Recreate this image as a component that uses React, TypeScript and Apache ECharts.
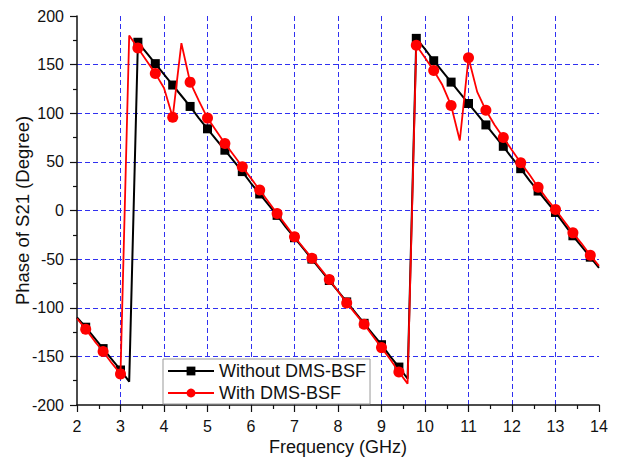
import React, { useEffect, useRef } from "react";
import * as echarts from "echarts";

const freqs = [
  2.0, 2.2, 2.4, 2.6, 2.8, 3.0, 3.2, 3.4, 3.6, 3.8, 4.0, 4.2, 4.4, 4.6, 4.8, 5.0,
  5.2, 5.4, 5.6, 5.8, 6.0, 6.2, 6.4, 6.6, 6.8, 7.0, 7.2, 7.4, 7.6, 7.8, 8.0, 8.2,
  8.4, 8.6, 8.8, 9.0, 9.2, 9.4, 9.6, 9.8, 10.0, 10.2, 10.4, 10.6, 10.8, 11.0, 11.2,
  11.4, 11.6, 11.8, 12.0, 12.2, 12.4, 12.6, 12.8, 13.0, 13.2, 13.4, 13.6, 13.8, 14.0,
];

const withoutBSF = [
  -110, -120, -131, -142, -153, -164, -176, 173, 162, 151, 140, 129, 118, 107, 95, 84,
  73, 62, 51, 40, 28, 17, 6, -5, -17, -28, -39, -50, -61, -72, -83, -94,
  -105, -116, -127, -138, -150, -161, -173, 177, 166, 154, 143, 132, 121, 110, 99,
  88, 77, 66, 54, 43, 31, 20, 9, -2, -14, -26, -37, -48, -59,
];

const withBSF = [
  -111, -122, -134, -145, -157, -168, 180, 167, 154, 141, 126, 96, 172, 132, 113, 95,
  82, 69, 57, 45, 33, 21, 9, -3, -15, -27, -38, -49, -60, -71, -83, -95,
  -106, -117, -129, -141, -153, -166, -178, 170, 157, 144, 129, 108, 72, 157, 122,
  103, 88, 75, 62, 49, 37, 24, 12, 1, -11, -23, -34, -46, -57,
];

const seriesNames = ["Without DMS-BSF", "With DMS-BSF"];
const xTitle = "Frequency (GHz)";
const yTitle = "Phase of S21 (Degree)";

const FONT = "'Liberation Sans', Arial, sans-serif";

function buildData(ys: number[]) {
  return freqs.map((x, i) =>
    i % 2 === 1 ? { value: [x, ys[i]] } : { value: [x, ys[i]], symbol: "none" }
  );
}

export default function App() {
  const ref = useRef<HTMLDivElement>(null);
  useEffect(() => {
    if (!ref.current) return;
    const chart = echarts.init(ref.current, null, { renderer: "svg" });
    const gridDash = { color: "#3030f0", type: [5, 3] as any, width: 1 };
    chart.setOption({
      animation: false,
      backgroundColor: "#ffffff",
      grid: {
        left: 77,
        right: 22,
        top: 16,
        bottom: 53,
        containLabel: false,
        outerBoundsMode: "none",
      },
      legend: {
        orient: "vertical",
        left: 163,
        top: 359,
        itemWidth: 46,
        itemHeight: 11,
        itemGap: 4,
        padding: [3, 4, 2, 4],
        borderColor: "#999",
        borderWidth: 1,
        backgroundColor: "#ffffff",
        textStyle: { fontSize: 18, color: "#111", fontFamily: FONT },
        data: seriesNames,
      },
      xAxis: {
        type: "value",
        min: 2,
        max: 14,
        interval: 1,
        name: xTitle,
        nameLocation: "middle",
        nameGap: 33,
        nameMoveOverlap: false,
        nameTextStyle: { fontSize: 18, color: "#111", fontFamily: FONT },
        axisLine: { show: true, onZero: false, lineStyle: { color: "#111", width: 1.5 } },
        axisTick: { show: true, inside: false, length: 7, lineStyle: { color: "#111", width: 1.2 } },
        minorTick: { show: true, splitNumber: 2, length: 4, lineStyle: { color: "#111", width: 1.2 } },
        axisLabel: { fontSize: 16, color: "#111", fontFamily: FONT, margin: 13 },
        splitLine: { show: true, showMinLine: false, showMaxLine: false, lineStyle: gridDash },
      },
      yAxis: {
        type: "value",
        min: -200,
        max: 200,
        interval: 50,
        name: yTitle,
        nameLocation: "middle",
        nameGap: 45,
        nameMoveOverlap: false,
        nameRotate: 90,
        nameTextStyle: { fontSize: 18.5, color: "#111", fontFamily: FONT },
        axisLine: { show: true, onZero: false, lineStyle: { color: "#111", width: 1.5 } },
        axisTick: { show: true, inside: false, length: 7, lineStyle: { color: "#111", width: 1.2 } },
        minorTick: { show: true, splitNumber: 2, length: 4, lineStyle: { color: "#111", width: 1.2 } },
        axisLabel: { fontSize: 16, color: "#111", fontFamily: FONT, margin: 13 },
        splitLine: { show: true, showMinLine: false, showMaxLine: false, lineStyle: gridDash },
      },
      series: [
        {
          name: seriesNames[0],
          type: "line",
          data: buildData(withoutBSF),
          symbol: "rect",
          symbolSize: 9,
          showAllSymbol: true,
          lineStyle: { color: "#000", width: 2 },
          itemStyle: { color: "#000" },
          z: 2,
        },
        {
          name: seriesNames[1],
          type: "line",
          data: buildData(withBSF),
          symbol: "circle",
          symbolSize: 11,
          showAllSymbol: true,
          lineStyle: { color: "#ff0000", width: 1.8 },
          itemStyle: { color: "#ff0000" },
          z: 3,
        },
      ],
    });
    return () => chart.dispose();
  }, []);
  return (
    <div
      ref={ref}
      style={{ position: "fixed", left: 0, top: 0, width: 621, height: 458, background: "#fff" }}
    />
  );
}
